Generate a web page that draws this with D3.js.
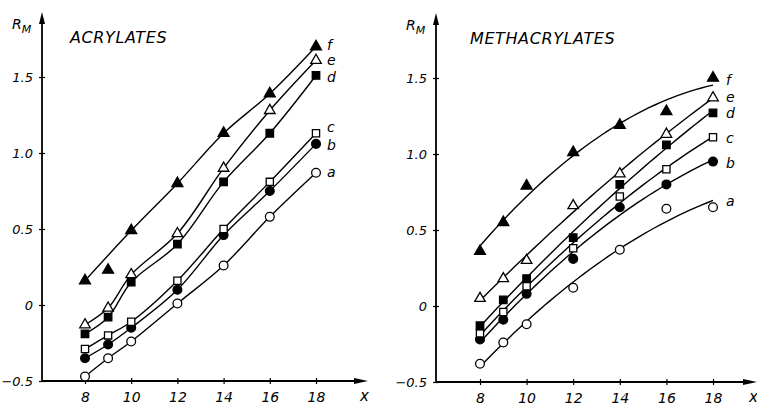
<!DOCTYPE html>
<html>
<head>
<meta charset="utf-8">
<script src="https://cdn.jsdelivr.net/npm/d3@7"></script>
<style>
  body { margin: 0; background: #fff; }
  text { font-family: "DejaVu Sans", sans-serif; font-style: italic; fill: #000; }
</style>
</head>
<body>
<svg id="chart" width="757" height="406"></svg>
<script>
// carbon number of the alkyl chain
const xValues = [8, 9, 10, 12, 14, 16, 18];
const xTicks = [8, 10, 12, 14, 16, 18];
const yTicks = [-0.5, 0, 0.5, 1.0, 1.5];
const seriesNames = ["a", "b", "c", "d", "e", "f"];

// R_M values, acrylates
const acrylatesA = [-0.47, -0.35, -0.24, 0.01, 0.26, 0.58, 0.87];
const acrylatesB = [-0.35, -0.26, -0.15, 0.10, 0.46, 0.75, 1.06];
const acrylatesC = [-0.29, -0.20, -0.11, 0.16, 0.50, 0.81, 1.13];
const acrylatesD = [-0.19, -0.08, 0.15, 0.40, 0.81, 1.13, 1.51];
const acrylatesE = [-0.13, -0.02, 0.20, 0.47, 0.90, 1.28, 1.61];
const acrylatesF = [0.16, 0.23, 0.49, 0.80, 1.13, 1.39, 1.70];
// the f curve was drawn without the C9 point
const acrylatesFSkip = [9];

// R_M values, methacrylates
const methacrylatesA = [-0.38, -0.24, -0.12, 0.12, 0.37, 0.64, 0.65];
const methacrylatesB = [-0.22, -0.09, 0.08, 0.31, 0.65, 0.80, 0.95];
const methacrylatesC = [-0.18, -0.04, 0.13, 0.38, 0.72, 0.90, 1.11];
const methacrylatesD = [-0.13, 0.04, 0.18, 0.45, 0.80, 1.06, 1.27];
const methacrylatesE = [0.05, 0.18, 0.30, 0.66, 0.87, 1.13, 1.37];
const methacrylatesF = [0.36, 0.55, 0.79, 1.01, 1.19, 1.28, 1.50];

// marker per series: symbol + filled?
const markers = {
  a: { sym: d3.symbolCircle, size: 60, fill: false },
  b: { sym: d3.symbolCircle, size: 60, fill: true },
  c: { sym: d3.symbolSquare, size: 52, fill: false },
  d: { sym: d3.symbolSquare, size: 56, fill: true },
  e: { sym: d3.symbolTriangle, size: 48, fill: false },
  f: { sym: d3.symbolTriangle, size: 52, fill: true }
};

const svg = d3.select("#chart");

// quadratic least squares, used for the smoothed methacrylate curves
function quadFit(xs, ys) {
  const m = 13;
  let S = [0, 0, 0, 0, 0], T = [0, 0, 0];
  xs.forEach((x, i) => {
    const u = x - m;
    for (let k = 0; k < 5; k++) S[k] += Math.pow(u, k);
    for (let k = 0; k < 3; k++) T[k] += ys[i] * Math.pow(u, k);
  });
  const A = [[S[0], S[1], S[2], T[0]], [S[1], S[2], S[3], T[1]], [S[2], S[3], S[4], T[2]]];
  for (let i = 0; i < 3; i++) {
    for (let j = i + 1; j < 3; j++) {
      const f = A[j][i] / A[i][i];
      for (let k = i; k < 4; k++) A[j][k] -= f * A[i][k];
    }
  }
  const c = [0, 0, 0];
  for (let i = 2; i >= 0; i--) {
    let s = A[i][3];
    for (let k = i + 1; k < 3; k++) s -= A[i][k] * c[k];
    c[i] = s / A[i][i];
  }
  return x => c[0] + c[1] * (x - m) + c[2] * (x - m) * (x - m);
}

function drawPanel(opt) {
  const x = d3.scaleLinear().domain([8, 18]).range(opt.xr);
  const y = d3.scaleLinear().domain([-0.5, 1.5]).range(opt.yr);
  const g = svg.append("g");
  const ax = opt.axisX, ay = y(-0.5);

  // y axis with arrow
  g.append("line").attr("x1", ax).attr("x2", ax).attr("y1", ay).attr("y2", opt.top + 8)
    .attr("stroke", "#000").attr("stroke-width", 1.8);
  g.append("path").attr("d", `M${ax - 3},${opt.top + 12}L${ax},${opt.top}L${ax + 3},${opt.top + 12}Z`);

  // x axis with arrow
  g.append("line").attr("x1", ax).attr("x2", opt.xEnd - 8).attr("y1", ay).attr("y2", ay)
    .attr("stroke", "#000").attr("stroke-width", 1.8);
  g.append("path").attr("d", `M${opt.xEnd - 14},${ay - 3}L${opt.xEnd},${ay}L${opt.xEnd - 14},${ay + 3}Z`);

  const yAxis = g.append("g").attr("transform", `translate(${ax},0)`)
    .call(d3.axisLeft(y).tickValues(yTicks).tickSize(3).tickPadding(6)
      .tickFormat(d => d === 0 ? "0" : d3.format(".1f")(d)));
  yAxis.select(".domain").remove();
  yAxis.selectAll(".tick line").attr("x1", 3).attr("stroke-width", 1.2);
  yAxis.selectAll(".tick text").style("font-size", "13px").attr("font-family", null);

  const xAxis = g.append("g").attr("transform", `translate(0,${ay})`)
    .call(d3.axisBottom(x).tickValues(xTicks).tickSize(3).tickPadding(8).tickFormat(d3.format("d")));
  xAxis.select(".domain").remove();
  xAxis.selectAll(".tick line").attr("y1", -3).attr("stroke-width", 1.2);
  xAxis.selectAll(".tick text").style("font-size", "14px").attr("font-family", null);

  // axis names and title
  const rm = g.append("text").attr("x", ax - 30).attr("y", opt.top + 17).style("font-size", "14px");
  rm.append("tspan").text("R");
  rm.append("tspan").attr("dy", 4).style("font-size", "11px").text("M");
  g.append("text").attr("x", opt.xEnd - 8).attr("y", ay + 20).style("font-size", "15px").text("x");
  g.append("text").attr("x", opt.titleX).attr("y", opt.top + 31)
    .style("font-size", "16px").style("letter-spacing", "0.6px").text(opt.title);

  const line = d3.line().x(d => x(d[0])).y(d => y(d[1]));

  seriesNames.forEach((name, si) => {
    const vals = opt.series[si];
    const pts = xValues.map((xv, i) => [xv, vals[i]]);
    if (opt.smooth) {
      const fit = quadFit(xValues, vals);
      const curve = d3.range(8, 18.001, 0.25).map(v => [v, fit(v)]);
      g.append("path").datum(curve).attr("d", line.curve(d3.curveLinear))
        .attr("fill", "none").attr("stroke", "#000").attr("stroke-width", 1.4);
    } else {
      const skip = name === "f" ? opt.fSkip : [];
      const used = pts.filter(p => !skip.includes(p[0]));
      g.append("path").datum(used).attr("d", line.curve(d3.curveCatmullRom.alpha(0.5)))
        .attr("fill", "none").attr("stroke", "#000").attr("stroke-width", 1.4);
    }
    const mk = markers[name];
    g.selectAll(null).data(pts).enter().append("path")
      .attr("transform", d => `translate(${x(d[0])},${y(d[1])})`)
      .attr("d", d3.symbol().type(mk.sym).size(mk.size))
      .attr("fill", mk.fill ? "#000" : "#fff")
      .attr("stroke", "#000").attr("stroke-width", 1.3);

    g.append("text").attr("x", x(18) + opt.labelDx).attr("y", y(vals[6]) + opt.labelDy[si])
      .attr("dy", "0.35em").style("font-size", "14px").text(name);
  });
}

drawPanel({
  xr: [85, 316], yr: [381, 77], axisX: 42, top: 12, xEnd: 368, titleX: 70,
  title: "ACRYLATES", smooth: false, fSkip: acrylatesFSkip,
  series: [acrylatesA, acrylatesB, acrylatesC, acrylatesD, acrylatesE, acrylatesF],
  labelDx: 11, labelDy: [-1, 1, -6, 2, 0, -2]
});

drawPanel({
  xr: [480, 713], yr: [382, 78], axisX: 436, top: 13, xEnd: 757, titleX: 470,
  title: "METHACRYLATES", smooth: true, fSkip: [],
  series: [methacrylatesA, methacrylatesB, methacrylatesC, methacrylatesD, methacrylatesE, methacrylatesF],
  labelDx: 13, labelDy: [-6, 1, 1, 0, -1, 2]
});
</script>
</body>
</html>
